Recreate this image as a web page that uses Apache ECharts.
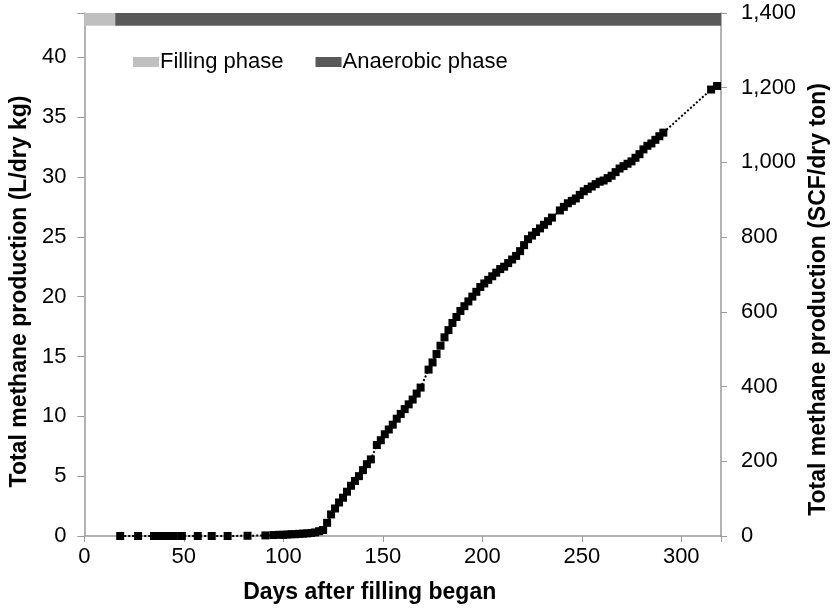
<!DOCTYPE html>
<html>
<head>
<meta charset="utf-8">
<script src="https://cdn.jsdelivr.net/npm/echarts@6/dist/echarts.min.js"></script>
<style>html,body{margin:0;padding:0;background:#fff}#c{width:838px;height:609px}</style>
</head>
<body>
<div id="c"></div>
<script>
// Days after filling began
var days = [18, 27, 35, 37, 39, 41, 43, 45, 49, 57, 64, 72, 82, 91, 95, 98, 100, 102, 104, 106, 108, 110, 112, 114, 116, 118,
  120, 122, 124, 126, 128, 130, 132, 134, 136, 138, 140, 142, 144, 147, 149, 151, 153, 155, 157, 159, 161, 163, 165, 167, 169,
  173, 175, 177, 179, 181, 183, 185, 187, 189, 191, 193, 195, 197, 199, 201, 203, 205, 207, 209, 211, 213, 215, 217, 219,
  221, 223, 225, 227, 229, 231, 233, 235, 239, 241, 243, 245, 247, 249, 251, 253, 255, 257, 259, 261, 263, 265, 267, 269,
  271, 273, 275, 277, 279, 281, 283, 285, 287, 289, 291, 315, 318];
// Total methane production (L/dry kg)
var methane = [0, 0, 0, 0, 0, 0, 0, 0, 0, 0, 0, 0, 0.02, 0.05, 0.08, 0.1, 0.1, 0.12, 0.15, 0.15, 0.18, 0.2, 0.22, 0.25, 0.3, 0.4,
  0.5, 1.1, 1.8, 2.3, 2.8, 3.2, 3.7, 4.2, 4.6, 5.0, 5.5, 6.0, 6.4, 7.6, 8.0, 8.5, 8.9, 9.3, 9.8, 10.2, 10.6, 11.0, 11.4, 11.9, 12.4,
  13.9, 14.5, 15.2, 15.9, 16.6, 17.2, 17.8, 18.3, 18.8, 19.2, 19.6, 20.0, 20.4, 20.8, 21.1, 21.4, 21.7, 22.0, 22.3, 22.5, 22.8, 23.1, 23.4, 23.8,
  24.3, 24.8, 25.1, 25.4, 25.7, 26.0, 26.3, 26.6, 27.2, 27.5, 27.8, 28.0, 28.2, 28.5, 28.8, 29.0, 29.2, 29.4, 29.6, 29.7, 29.9, 30.1, 30.4, 30.7,
  30.9, 31.1, 31.3, 31.6, 31.9, 32.3, 32.6, 32.8, 33.1, 33.4, 33.7, 37.3, 37.6];
// Phases (days)
var phaseNames = ['Filling phase', 'Anaerobic phase'];
var phaseStart = [0, 15.5];
var phaseEnd = [15.5, 320];
var phaseColors = ['#bfbfbf', '#595959'];
// Axes
var xMin = 0, xMax = 320, xStep = 50;
var rightMax = 1400, rightStep = 200;
var scfPerL = 32.04;       // SCF/dry ton per L/dry kg
var leftMax = rightMax / scfPerL, leftStep = 5;
var barBottom = 1366;      // phase band lower edge (right-axis units)

var FONT = '"Liberation Sans", Arial, sans-serif';
var axisGray = '#9a9a9a';
var chart = echarts.init(document.getElementById('c'), null, {renderer: 'canvas'});

var pts = days.map(function (d, i) { return [d, methane[i]]; });

var series = [{
  name: 'methane',
  type: 'line',
  data: pts,
  yAxisIndex: 0,
  symbol: 'rect',
  symbolSize: 8,
  itemStyle: {color: '#000'},
  lineStyle: {color: '#000', width: 2, type: 'dotted'},
  silent: true,
  z: 5
}];
phaseNames.forEach(function (n, i) {
  series.push({
    name: n,
    type: 'line',
    data: [],
    yAxisIndex: 1,
    color: phaseColors[i],
    silent: true,
    markArea: {
      silent: true,
      itemStyle: {color: phaseColors[i], opacity: 1},
      data: [[{xAxis: phaseStart[i], yAxis: barBottom}, {xAxis: phaseEnd[i], yAxis: rightMax}]]
    }
  });
});

var nameStyle = {fontSize: 23, fontWeight: 'bold', color: '#000', fontFamily: FONT};

chart.setOption({
  animation: false,
  textStyle: {fontFamily: FONT},
  grid: {left: 82, right: 109, top: 13, bottom: 73, containLabel: false},
  legend: {
    data: phaseNames,
    left: 133, top: 51,
    icon: 'rect', itemWidth: 26, itemHeight: 10, itemGap: 32,
    padding: 0,
    textStyle: {fontSize: 22, color: '#000', fontFamily: FONT, padding: [0, 0, 0, -4]}
  },
  xAxis: {
    type: 'value', min: xMin, max: xMax, interval: xStep,
    name: 'Days after filling began', nameLocation: 'middle', nameGap: 45,
    nameTextStyle: Object.assign({}, nameStyle, {padding: [0, 66, 0, 0]}),
    axisLine: {lineStyle: {color: axisGray, width: 1.5}},
    axisTick: {show: true, inside: false, length: 6, lineStyle: {color: axisGray}},
    axisLabel: {fontSize: 22, color: '#000', margin: 10, fontFamily: FONT,
      formatter: function (v) { return v % xStep === 0 ? String(v) : ''; }},
    splitLine: {show: false}
  },
  yAxis: [{
    type: 'value', min: 0, max: leftMax, interval: leftStep, position: 'left',
    name: 'Total methane production (L/dry kg)', nameLocation: 'middle', nameGap: 46, nameRotate: 90,
    nameTextStyle: Object.assign({}, nameStyle, {padding: [0, 34, 0, 0]}),
    axisLine: {show: true, lineStyle: {color: axisGray, width: 1.5}},
    axisTick: {show: true, inside: false, length: 7, lineStyle: {color: axisGray}},
    axisLabel: {fontSize: 22, color: '#000', margin: 18, fontFamily: FONT,
      formatter: function (v) { return Math.abs(v % leftStep) < 1e-9 ? String(v) : ''; }},
    splitLine: {show: false}
  }, {
    type: 'value', min: 0, max: rightMax, interval: rightStep, position: 'right',
    name: 'Total methane production (SCF/dry ton)', nameLocation: 'middle', nameGap: 84, nameRotate: 90,
    nameTextStyle: Object.assign({}, nameStyle, {padding: [0, 50, 0, 0]}),
    axisLine: {show: true, lineStyle: {color: axisGray, width: 1.5}},
    axisTick: {show: true, inside: false, length: 6, lineStyle: {color: axisGray}},
    axisLabel: {fontSize: 22, color: '#000', margin: 20, fontFamily: FONT,
      formatter: function (v) { return v.toLocaleString('en-US'); }},
    splitLine: {show: false}
  }],
  series: series
});
</script>
</body>
</html>
